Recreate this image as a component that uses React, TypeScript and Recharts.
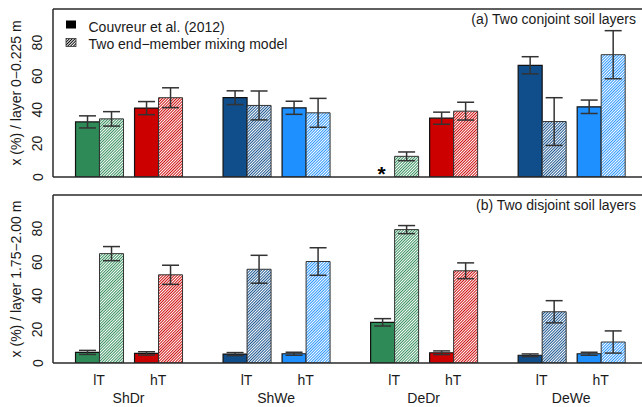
import React from 'react';
import { BarChart, Bar, XAxis, YAxis, ErrorBar, ReferenceLine, ReferenceDot, Cell } from 'recharts';

// ---- data ----
const positions = [1, 2, 3.5, 4.5, 6, 7, 8.5, 9.5];
const treatments = ['lT', 'hT', 'lT', 'hT', 'lT', 'hT', 'lT', 'hT'];
const groups = ['ShDr', 'ShWe', 'DeDr', 'DeWe'];
const groupCenters = [1.5, 4, 6.5, 9];
const barColors = ['#2E8B57', '#CD0000', '#104E8B', '#1E90FF', '#2E8B57', '#CD0000', '#104E8B', '#1E90FF'];
const hatchIds = ['hg', 'hr', 'hd', 'hl', 'hg', 'hr', 'hd', 'hl'];

const topCouvreur = [32.8, 41.0, 47.2, 41.2, null, 35.0, 66.5, 41.8];
const topCouvreurErr = [3.6, 3.9, 4.1, 3.9, null, 3.6, 5.1, 4.0];
const topMixing = [34.6, 47.2, 42.6, 38.2, 12.3, 39.2, 33.0, 72.8];
const topMixingErr = [4.3, 5.9, 8.6, 8.6, 2.6, 5.3, 14.2, 14.3];
const topMissingPos = [6]; // position where the Couvreur value is not available (marked "*")

const bottomCouvreur = [6.3, 5.7, 5.3, 5.5, 24.2, 6.1, 4.6, 5.5];
const bottomCouvreurErr = [1.2, 1.0, 0.9, 0.9, 2.2, 1.1, 0.8, 0.9];
const bottomMixing = [65.1, 52.5, 55.8, 60.4, 79.4, 54.9, 30.5, 12.5];
const bottomMixingErr = [4.2, 5.7, 8.3, 8.2, 2.4, 4.7, 6.6, 6.6];

const yTicks = [0, 20, 40, 60, 80];
const legendLabels = ['Couvreur et al. (2012)', 'Two end\u2212member mixing model'];
const titleTop = '(a) Two conjoint soil layers';
const titleBottom = '(b) Two disjoint soil layers';
const yLabelTop = 'x (%) / layer 0\u22120.225 m';
const yLabelBottom = 'x (%) / layer 1.75\u22122.00 m';

const buildRows = (c: (number | null)[], ce: (number | null)[], m: number[], me: number[]) =>
  positions.map((p, i) => ({
    pos: p,
    couvreur: c[i],
    couvreurErr: ce[i],
    mixing: m[i],
    mixingErr: me[i],
  }));

const topData = buildRows(topCouvreur, topCouvreurErr, topMixing, topMixingErr);
const bottomData = buildRows(bottomCouvreur, bottomCouvreurErr, bottomMixing, bottomMixingErr);

const FONT = '"Liberation Sans", Arial, Helvetica, sans-serif';
const TXT = '#1a1a1a';
const LINE = '#2a2a2a';
const BAR_SIZE = 24;

const YTick = (props: any) => {
  const { x, y, payload } = props;
  const cx = x - 10.5;
  return (
    <text x={cx} y={y} transform={`rotate(-90, ${cx}, ${y})`} textAnchor="middle" dominantBaseline="central"
      fontFamily={FONT} fontSize={14} fill={TXT}>{payload.value}</text>
  );
};

const allXTicks = [...positions, ...groupCenters].sort((a, b) => a - b);

const XTick = (props: any) => {
  const { x, y, payload } = props;
  const v = payload.value;
  const pi = positions.indexOf(v);
  if (pi >= 0) {
    return <text x={x} y={y + 22} textAnchor="middle" fontFamily={FONT} fontSize={14} fill={TXT}>{treatments[pi]}</text>;
  }
  const gi = groupCenters.indexOf(v);
  if (gi >= 0) {
    return <text x={x} y={y + 40} textAnchor="middle" fontFamily={FONT} fontSize={14} fill={TXT}>{groups[gi]}</text>;
  }
  return <g />;
};

const AsteriskShape = (props: any) => {
  const { cx, cy } = props;
  const x = cx - BAR_SIZE / 2 - 0.5;
  return (
    <text x={x} y={cy + 3.5} textAnchor="middle" fontFamily={FONT} fontSize={21} fontWeight="bold" fill="#000">*</text>
  );
};

const Defs = () => (
  <svg width={0} height={0} style={{ position: 'absolute' }}>
    <defs>
      {[['hg', '#2E8B57'], ['hr', '#CD0000'], ['hd', '#104E8B'], ['hl', '#1E90FF'], ['hk', '#000']].map(([id, c]) => (
        <pattern key={id} id={id} patternUnits="userSpaceOnUse" width={2.0} height={10} patternTransform="rotate(45)">
          <rect x={0} y={0} width={2.0} height={10} fill="#fff" />
          <rect x={0} y={0} width={0.95} height={10} fill={c} />
        </pattern>
      ))}
    </defs>
  </svg>
);

const Panel = ({ data, height, title, yLabel, showLegend, bottomAxis, missing }: any) => (
  <BarChart width={642} height={height} data={data} margin={{ top: 9, right: 0, bottom: 0, left: 0 }} barGap={0} barSize={BAR_SIZE}>
    <XAxis
      dataKey="pos"
      type="number"
      domain={[0.22, 10.2]}
      allowDataOverflow
      ticks={bottomAxis ? allXTicks : positions}
      interval={0}
      height={bottomAxis ? 44 : 9}
      tick={bottomAxis ? <XTick /> : false}
      tickLine={false}
      tickSize={0}
      tickMargin={0}
      axisLine={{ stroke: LINE, strokeWidth: 1.5 }}
    />
    <YAxis
      type="number"
      domain={[0, 100]}
      allowDataOverflow
      ticks={yTicks}
      width={53}
      tickSize={5}
      tickMargin={0}
      tick={<YTick />}
      tickLine={false}
      axisLine={{ stroke: LINE, strokeWidth: 1.5 }}
    />
    <ReferenceLine y={100} stroke={LINE} strokeWidth={1.5} />
    <Bar dataKey="couvreur" isAnimationActive={false} stroke="#111" strokeWidth={1.2}>
      {data.map((d: any, i: number) => <Cell key={i} fill={barColors[i]} />)}
      <ErrorBar dataKey="couvreurErr" width={8.5} stroke="#333" strokeWidth={1.5} direction="y" />
    </Bar>
    <Bar dataKey="mixing" isAnimationActive={false} stroke="#333" strokeWidth={1}>
      {data.map((d: any, i: number) => <Cell key={i} fill={`url(#${hatchIds[i]})`} />)}
      <ErrorBar dataKey="mixingErr" width={8.5} stroke="#333" strokeWidth={1.5} direction="y" />
    </Bar>
    {(missing || []).map((p: number) => (
      <ReferenceDot key={p} x={p} y={0} r={0} shape={<AsteriskShape />} />
    ))}
    <text x={636} y={23.5} textAnchor="end" fontFamily={FONT} fontSize={14} fill={TXT}>{title}</text>
    <text x={16} y={93} transform="rotate(-90, 16, 93)" textAnchor="middle" dominantBaseline="central"
      fontFamily={FONT} fontSize={14} fill={TXT}>{yLabel}</text>
    {showLegend && (
      <g>
        <rect x={66} y={20.5} width={10} height={8} fill="#000" />
        <rect x={66} y={38.5} width={10} height={8} fill="url(#hk)" stroke="#333" strokeWidth={0.8} />
        <text x={88.5} y={31.5} fontFamily={FONT} fontSize={14} fill={TXT}>{legendLabels[0]}</text>
        <text x={88.5} y={48.5} fontFamily={FONT} fontSize={14} fill={TXT}>{legendLabels[1]}</text>
      </g>
    )}
  </BarChart>
);

export default function App() {
  return (
    <div style={{ position: 'absolute', left: 0, top: 0, width: 642, height: 407, background: '#fff', overflow: 'hidden' }}>
      <Defs />
      <Panel data={topData} height={186} title={titleTop} yLabel={yLabelTop} showLegend bottomAxis={false} missing={topMissingPos} />
      <Panel data={bottomData} height={221} title={titleBottom} yLabel={yLabelBottom} showLegend={false} bottomAxis />
    </div>
  );
}
